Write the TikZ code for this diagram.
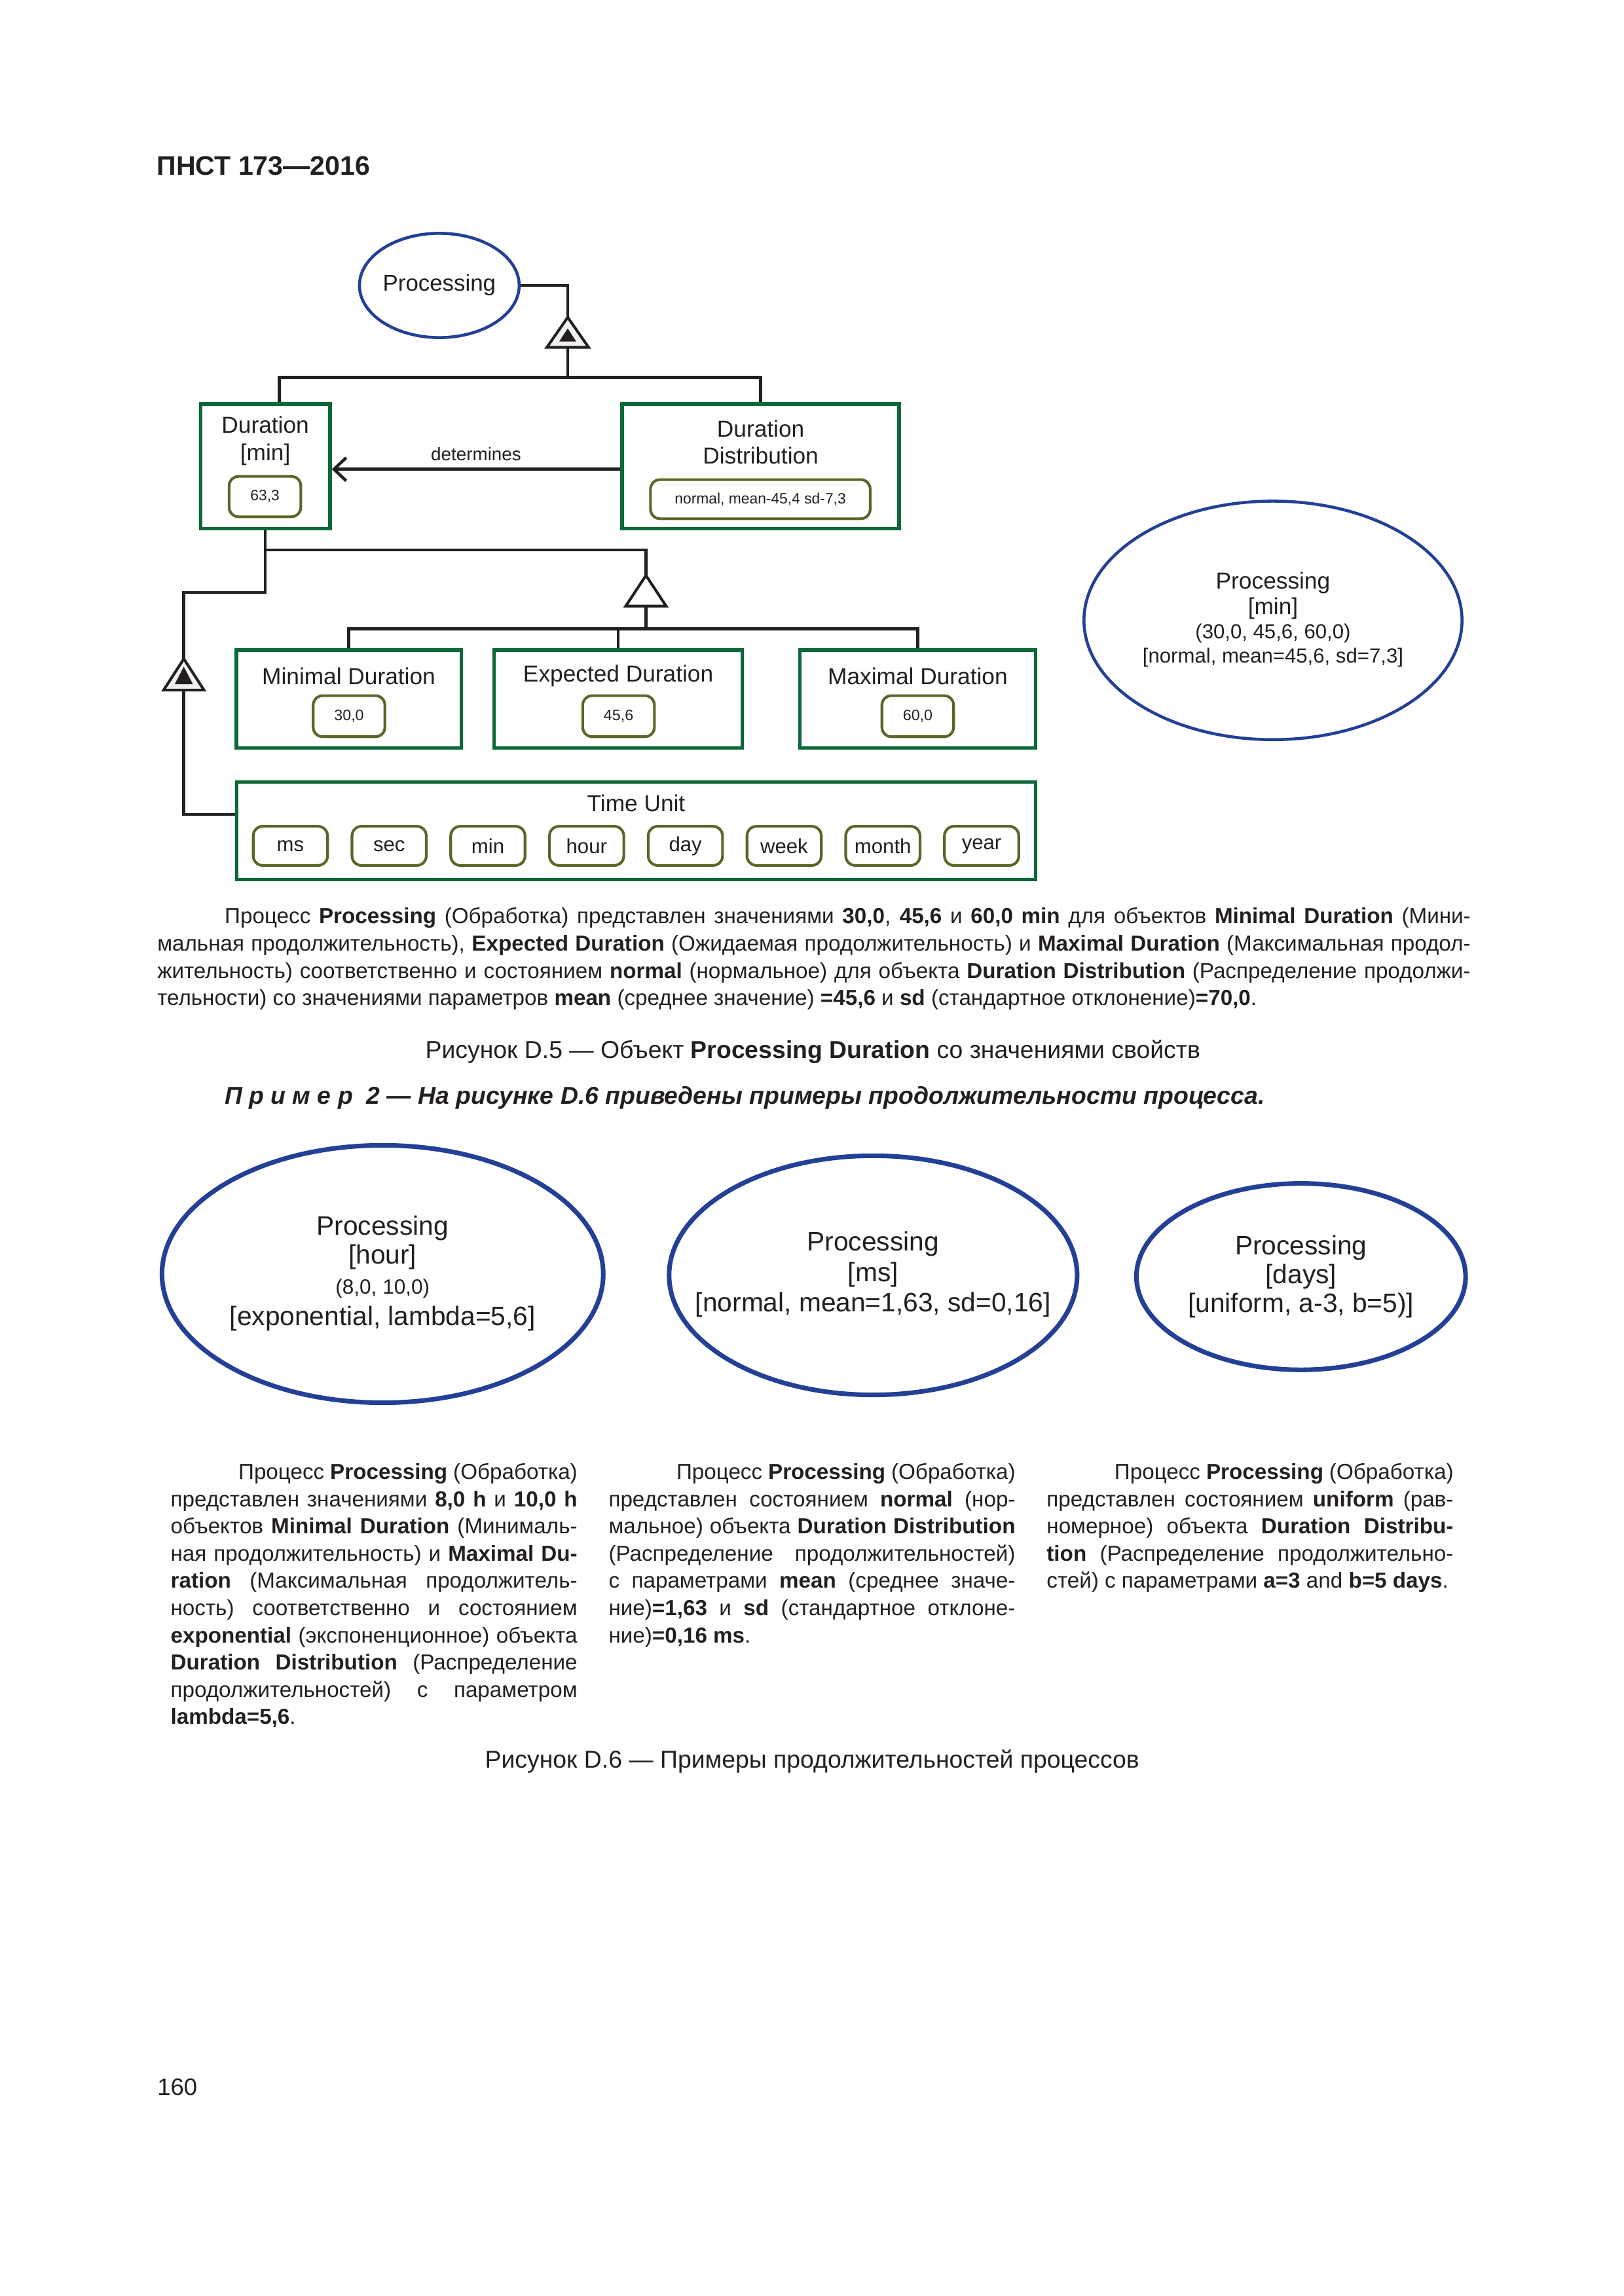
\documentclass[tikz,border=0pt]{standalone}
\usepackage{fontspec}
\setmainfont{Liberation Sans}
\usetikzlibrary{shapes.geometric,arrows.meta}
\definecolor{pblue}{RGB}{35,64,150}
\definecolor{bgreen}{RGB}{10,105,55}
\definecolor{valolive}{RGB}{95,100,40}
\definecolor{lineblack}{RGB}{35,31,32}
\newcommand{\setfs}[1]{\fontsize{#1}{#1}\selectfont}
\newcommand{\pxu}{0.23978pt}
\newcommand{\jline}[2]{\makebox[#1][s]{#2}}
\begin{document}
\begin{tikzpicture}[x=0.23978pt,y=-0.23978pt,
  sz/.style 2 args={minimum width=#1*\pxu,minimum height=#2*\pxu},
  conn/.style={draw=lineblack,line width=1.1pt},
  tribox/.style={draw=lineblack,line width=1pt,fill=gray!12,line join=miter},
  objbox/.style={rectangle,draw=bgreen,line width=1.3pt,inner sep=0pt},
  valbox/.style={rectangle,draw=valolive,line width=1pt,rounded corners=3.5pt,inner sep=0pt,text=lineblack},
  procell/.style={ellipse,draw=pblue,inner sep=0pt},
  txt/.style={inner sep=0pt,text=lineblack},
  ptxt/.style={txt,anchor=base west,font=\setfs{8}}]
\fill[white] (0,0) rectangle (2491.5,3523.3);
\useasboundingbox (0,0) rectangle (2491.5,3523.3);

% header
\node[txt,anchor=base west,font=\bfseries\setfs{9.9}] (hdr) at (240,269) {ПНСТ 173—2016};

% ---------- Figure D.5 ----------
\node[procell,sz={230}{160},line width=1.1pt,font=\setfs{8.4},text=lineblack] (P) at (674,438) {Processing};

\coordinate (t1top) at (871,487);
\coordinate (t1bot) at (871,533);
\coordinate (bar1) at (871,579);
\draw[conn] (P.east) -| (t1top);
\draw[tribox] (t1top) -- (839,533) -- (903,533) -- cycle;
\fill[lineblack] (871,504) -- (858,524) -- (884,524) -- cycle;
\draw[conn] (t1bot) -- (bar1);

\node[objbox,sz={198.5}{191}] (Dur) at (407,715.5) {};
\node[txt,align=center,font=\fontsize{8.5}{9.9}\selectfont] (DurT) at (407,676.5) {Duration\\{}[min]};
\node[valbox,sz={110}{62},font=\setfs{5.5}] (DurV) at (406.5,762) {63,3};

\node[objbox,sz={425}{191}] (Dist) at (1167,715.5) {};
\node[txt,align=center,font=\fontsize{8.5}{9.9}\selectfont] (DistT) at (1167,678.5) {Duration\\Distribution};
\node[valbox,sz={337}{60},font=\setfs{5.5}] (DistV) at (1166.5,766) {normal, mean-45,4 sd-7,3};

\draw[conn] ([xshift=5.2pt]Dur.north) |- (bar1) -| (Dist.north);
\draw[conn,-{Straight Barb[length=4.5pt,width=8.5pt]}] ([yshift=-1.1pt]Dist.west) -- ([yshift=-1.1pt]Dur.east)
  node[midway,txt,yshift=5.6pt,font=\setfs{6.7}] (detl) {determines};

% second level
\coordinate (bar2) at (991,844);
\coordinate (t2top) at (991,883);
\coordinate (t2bot) at (991,930);
\coordinate (bar3) at (991,965);
\draw[conn] (Dur.south) |- (bar2) -- (t2top);
\draw[tribox,fill=white] (t2top) -- (960,930) -- (1022,930) -- cycle;
\draw[conn] (t2bot) -- (bar3);

\node[objbox,sz={345}{150}] (MinD) at (535,1072.7) {};
\node[txt,font=\setfs{8.5}] (MinDT) at (535,1037.5) {Minimal Duration};
\node[valbox,sz={110}{63},font=\setfs{5.6}] (MinDV) at (535.5,1099) {30,0};

\node[objbox,sz={381}{150}] (ExpD) at (948.5,1072.7) {};
\node[txt,font=\setfs{8.5}] (ExpDT) at (948.5,1037.5) {Expected Duration};
\node[valbox,sz={110}{63},font=\setfs{5.6}] (ExpDV) at (949,1099) {45,6};

\node[objbox,sz={362}{150}] (MaxD) at (1408,1072.7) {};
\node[txt,font=\setfs{8.5}] (MaxDT) at (1408,1037.5) {Maximal Duration};
\node[valbox,sz={110}{63},font=\setfs{5.6}] (MaxDV) at (1408,1099) {60,0};

\draw[conn] (MinD.north) |- (bar3) -| (MaxD.north);
\draw[conn] (ExpD.north) -- (ExpD.north |- bar3);

% left branch to Time Unit
\coordinate (k1) at (407,909);
\coordinate (t3top) at (282,1011);
\coordinate (t3bot) at (282,1059);
\draw[conn] (Dur.south) -- (k1) -| (t3top);
\draw[tribox] (t3top) -- (251,1059) -- (313,1059) -- cycle;
\fill[lineblack] (282,1023) -- (268,1050) -- (296,1050) -- cycle;

\node[objbox,sz={1226}{150}] (TU) at (976,1275) {};
\node[txt,font=\setfs{8.5}] (TUT) at (976,1233) {Time Unit};
\foreach \n [count=\i from 0] in {ms,sec,min,hour,day,week,month,year}
  \node[valbox,sz={114}{60},font=\setfs{7.5}] (u\n) at ({445.5+151.5*\i},1298) {\n};
\draw[conn] (t3bot) |- ([yshift=6pt]TU.west);

% right ellipse
\node[procell,sz={580}{366},line width=1.1pt] (PR) at (1953,952) {};
\node[txt,font=\setfs{8.5}] (PR1) at (1953,895) {Processing};
\node[txt,font=\setfs{8.5}] (PR2) at (1953,934) {[min]};
\node[txt,font=\setfs{7.5}] (PR3) at (1953,972) {(30,0, 45,6, 60,0)};
\node[txt,font=\setfs{7.5}] (PR4) at (1953,1009) {[normal, mean=45,6, sd=7,3]};

% paragraph
\node[ptxt] (p1) at (344,1417) {\jline{458.3pt}{Процесс \textbf{Processing} (Обработка) представлен значениями \textbf{30,0}, \textbf{45,6} и \textbf{60,0 min} для объектов \textbf{Minimal Duration} (Мини-}};
\node[ptxt] (p2) at (240.6,1459) {\jline{483.05pt}{мальная продолжительность), \textbf{Expected Duration} (Ожидаемая продолжительность) и \textbf{Maximal Duration} (Максимальная продол-}};
\node[ptxt] (p3) at (240.6,1501) {\jline{483.05pt}{жительность) соответственно и состоянием \textbf{normal} (нормальное) для объекта \textbf{Duration Distribution} (Распределение продолжи-}};
\node[ptxt] (p4) at (240.6,1543) {тельности) со значениями параметров \textbf{mean} (среднее значение) \textbf{=45,6} и \textbf{sd} (стандартное отклонение)\textbf{=70,0}.};

\node[txt,anchor=base,font=\setfs{9}] (cap5) at (1247,1624) {Рисунок D.5 — Объект \textbf{Processing Duration} со значениями свойств};

\node[txt,anchor=base west,font=\bfseries\itshape\setfs{9}] (ex2) at (344,1694) {П\kern2.5pt р\kern2.5pt и\kern2.5pt м\kern2.5pt е\kern2.5pt р\kern5pt 2 — На рисунке D.6 приведены примеры продолжительности процесса.};

% ---------- Figure D.6 ----------
\node[procell,sz={677}{395},line width=1.7pt] (E1) at (587,1955) {};
\node[txt,font=\setfs{9.8}] (E1a) at (587,1885) {Processing};
\node[txt,font=\setfs{9.8}] (E1b) at (587,1929) {[hour]};
\node[txt,font=\setfs{7.6}] (E1c) at (587,1977) {(8,0, 10,0)};
\node[txt,font=\setfs{9.8}] (E1d) at (587,2023) {[exponential, lambda=5,6]};

\node[procell,sz={626}{367},line width=1.7pt] (E2) at (1339.5,1957) {};
\node[txt,font=\setfs{9.8}] (E2a) at (1339.5,1909) {Processing};
\node[txt,font=\setfs{9.8}] (E2b) at (1339.5,1956) {[ms]};
\node[txt,font=\setfs{9.8}] (E2c) at (1339.5,2002) {[normal, mean=1,63, sd=0,16]};

\node[procell,sz={505}{286},line width=1.7pt] (E3) at (1996,1959) {};
\node[txt,font=\setfs{9.8}] (E3a) at (1996,1915) {Processing};
\node[txt,font=\setfs{9.8}] (E3b) at (1996,1959) {[days]};
\node[txt,font=\setfs{9.8}] (E3c) at (1996,2003) {[uniform, a-3, b=5)]};

% column 1
\node[ptxt] (a1) at (365,2270) {\jline{124.7pt}{Процесс \textbf{Processing} (Обработка)}};
\node[ptxt] (a2) at (261,2311.8) {\jline{149.6pt}{представлен значениями \textbf{8,0 h} и \textbf{10,0 h}}};
\node[ptxt] (a3) at (261,2353.6) {\jline{149.6pt}{объектов \textbf{Minimal Duration} (Минималь-}};
\node[ptxt] (a4) at (261,2395.4) {\jline{149.6pt}{ная продолжительность) и \textbf{Maximal Du-}}};
\node[ptxt] (a5) at (261,2437.2) {\jline{149.6pt}{\textbf{ration} (Максимальная продолжитель-}};
\node[ptxt] (a6) at (261,2479) {\jline{149.6pt}{ность) соответственно и состоянием}};
\node[ptxt] (a7) at (261,2520.8) {\jline{149.6pt}{\textbf{exponential} (экспоненционное) объекта}};
\node[ptxt] (a8) at (261,2562.6) {\jline{149.6pt}{\textbf{Duration Distribution} (Распределение}};
\node[ptxt] (a9) at (261,2604.4) {\jline{149.6pt}{продолжительностей) с параметром}};
\node[ptxt] (a10) at (261,2646.2) {\textbf{lambda=5,6}.};

% column 2
\node[ptxt] (b1) at (1037,2270) {\jline{124.7pt}{Процесс \textbf{Processing} (Обработка)}};
\node[ptxt] (b2) at (933,2311.8) {\jline{149.6pt}{представлен состоянием \textbf{normal} (нор-}};
\node[ptxt] (b3) at (933,2353.6) {\jline{149.6pt}{мальное) объекта \textbf{Duration Distribution}}};
\node[ptxt] (b4) at (933,2395.4) {\jline{149.6pt}{(Распределение продолжительностей)}};
\node[ptxt] (b5) at (933,2437.2) {\jline{149.6pt}{с параметрами \textbf{mean} (среднее значе-}};
\node[ptxt] (b6) at (933,2479) {\jline{149.6pt}{ние)\textbf{=1,63} и \textbf{sd} (стандартное отклоне-}};
\node[ptxt] (b7) at (933,2520.8) {ние)\textbf{=0,16 ms}.};

% column 3
\node[ptxt] (c1) at (1709,2270) {\jline{124.7pt}{Процесс \textbf{Processing} (Обработка)}};
\node[ptxt] (c2) at (1605,2311.8) {\jline{149.6pt}{представлен состоянием \textbf{uniform} (рав-}};
\node[ptxt] (c3) at (1605,2353.6) {\jline{149.6pt}{номерное) объекта \textbf{Duration Distribu-}}};
\node[ptxt] (c4) at (1605,2395.4) {\jline{149.6pt}{\textbf{tion} (Распределение продолжительно-}};
\node[ptxt] (c5) at (1605,2437.2) {стей) с параметрами \textbf{a=3} and \textbf{b=5 days}.};

\node[txt,anchor=base,font=\setfs{9}] (cap6) at (1246,2712.6) {Рисунок D.6 — Примеры продолжительностей процессов};

\node[txt,anchor=base west,font=\setfs{8.8}] (pgno) at (240.6,3215) {160};
\end{tikzpicture}
\end{document}
